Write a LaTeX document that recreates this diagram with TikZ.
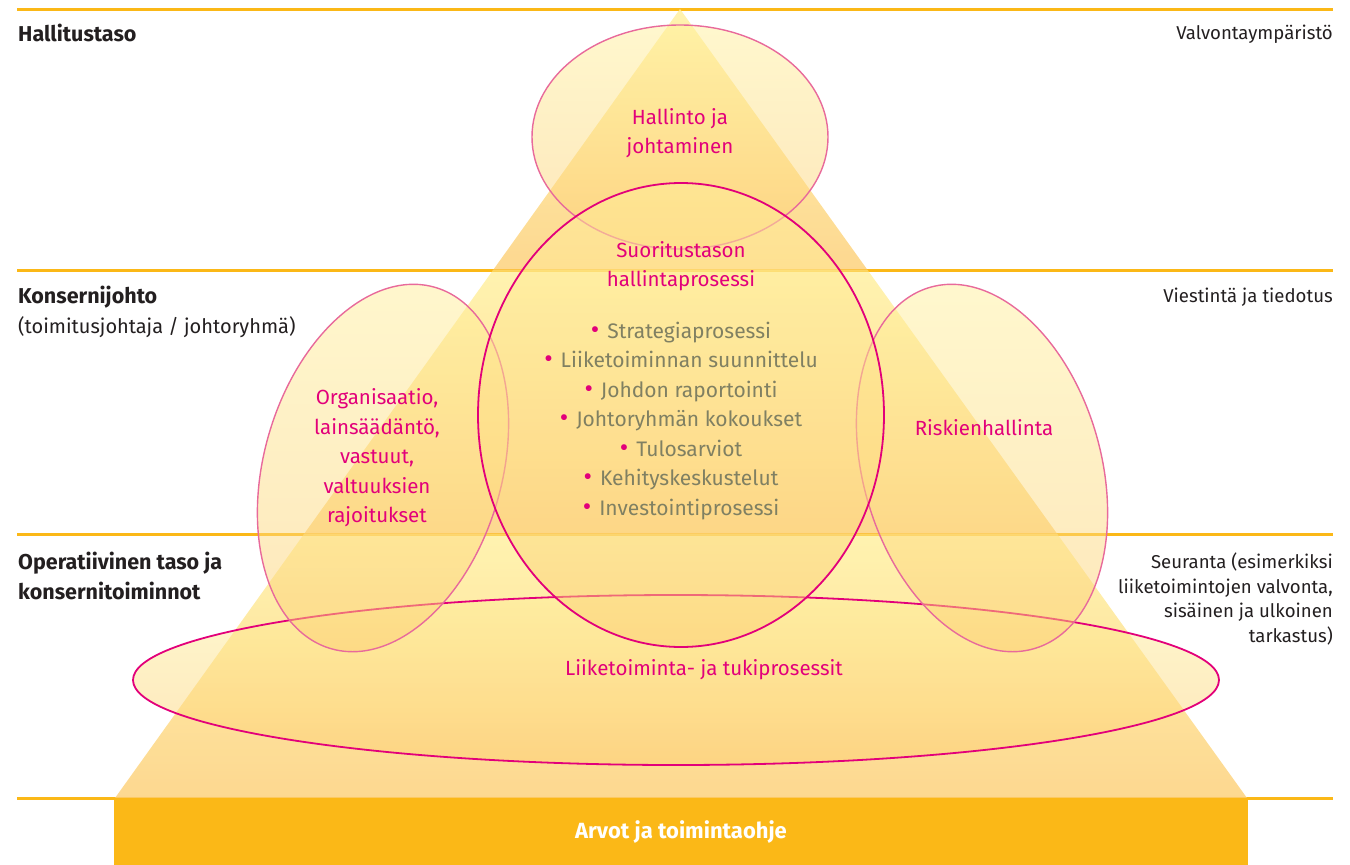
\documentclass[tikz,border=0pt]{standalone}
\usepackage{fontspec}
\setmainfont{Fira Sans}
\usetikzlibrary{positioning}
\definecolor{barcol}{RGB}{251,184,23}
\definecolor{tritop}{RGB}{255,240,156}
\definecolor{tribot}{RGB}{253,206,116}
\definecolor{deepmag}{RGB}{226,0,122}
\definecolor{softmag}{RGB}{232,106,155}
\definecolor{darktext}{RGB}{35,31,32}
\definecolor{listtext}{RGB}{128,128,98}
\newcommand\dotitem{{\color{deepmag}\fontsize{26}{29.5}\selectfont•}\hspace{8pt}}
\begin{document}
\begin{tikzpicture}[x=1pt,y=-1pt,
  every node/.style={font=\fontsize{20.5}{29.5}\selectfont,inner sep=0pt,align=center},
  level/.style={text=darktext,align=left,anchor=west},
  side/.style={text=darktext,align=right,anchor=east,font=\fontsize{18.6}{24.5}\selectfont},
  area/.style={text=deepmag},
  soft/.style={draw=softmag,line width=1.4pt,top color=tritop,bottom color=tribot,fill opacity=0.5},
  strong/.style={draw=deepmag,line width=1.8pt,top color=tritop,bottom color=tribot,fill opacity=0.5}]
  \useasboundingbox (0,0) rectangle (1350,865);
  \pgfmathsetmacro\apex{680}
  \pgfmathsetmacro\base{798}
  % level lines:
  \foreach \y in {9,270,534,798}
    \draw[barcol,line width=3pt] (17,\y) -- (1333,\y);
  % triangle, one shaded band per level:
  \begin{scope}
    \clip (\apex,9) -- (1247,\base) -- (115,\base) -- cycle;
    \foreach \t/\b in {9/270,270/534,534/798}
      \shade[top color=tritop,bottom color=tribot,fill opacity=0.8] (100,\t) rectangle (1260,\b);
  \end{scope}
  % level lines seen through the triangle:
  \foreach \y in {270,534}
    \draw[barcol,line width=3pt,opacity=0.4] (17,\y) -- (1333,\y);
  % values bar:
  \fill[barcol] (114,\base) rectangle (1248,865);
  % ellipses:
  \draw[soft] (680,137) ellipse [x radius=148,y radius=112];
  \draw[strong] (676,680) ellipse [x radius=543,y radius=85];
  \draw[soft,rotate around={-16:(383,468)}] (383,468) ellipse [x radius=119,y radius=188];
  \draw[soft,rotate around={16:(982,468)}] (982,468) ellipse [x radius=119,y radius=188];
  \draw[strong] (681,415) ellipse [x radius=203,y radius=232];
  % level names:
  \node[level,font=\fontsize{21.5}{30}\selectfont\bfseries] (board) at (18,33) {Hallitustaso};
  \node[level,font=\fontsize{20}{30}\selectfont] (group) at (18,312)
    {{\fontsize{21.5}{30}\selectfont\bfseries Konsernijohto}\\(toimitusjohtaja / johtoryhmä)};
  \node[level,font=\fontsize{21.5}{29.5}\selectfont\bfseries] (oper) at (18,576)
    {Operatiivinen taso ja\\konsernitoiminnot};
  % control names:
  \node[side] (env) at (1333,34) {Valvontaympäristö};
  \node[side] (comm) at (1333,297) {Viestintä ja tiedotus};
  \node[side] (follow) at (1333,599)
    {Seuranta (esimerkiksi\\liiketoimintojen valvonta,\\sisäinen ja ulkoinen\\tarkastus)};
  % ellipse texts:
  \node[area] (gov) at (680,133) {Hallinto ja\\johtaminen};
  \node[area] (perf) at (681,266) {Suoritustason\\hallintaprosessi};
  \node[text=listtext,font=\fontsize{21}{29.5}\selectfont] (list) at (681,421)
    {\dotitem Strategiaprosessi\\
     \dotitem Liiketoiminnan suunnittelu\\
     \dotitem Johdon raportointi\\
     \dotitem Johtoryhmän kokoukset\\
     \dotitem Tulosarviot\\
     \dotitem Kehityskeskustelut\\
     \dotitem Investointiprosessi};
  \node[area] (org) at (377,458)
    {Organisaatio,\\lainsäädäntö,\\vastuut,\\valtuuksien\\rajoitukset};
  \node[area] (risk) at (984,428) {Riskienhallinta};
  \node[area] (proc) at (704,670) {Liiketoiminta- ja tukiprosessit};
  \node[text=white,font=\fontsize{22}{29.5}\selectfont\bfseries] (values) at (681,832)
    {Arvot ja toimintaohje};
\end{tikzpicture}
\end{document}
